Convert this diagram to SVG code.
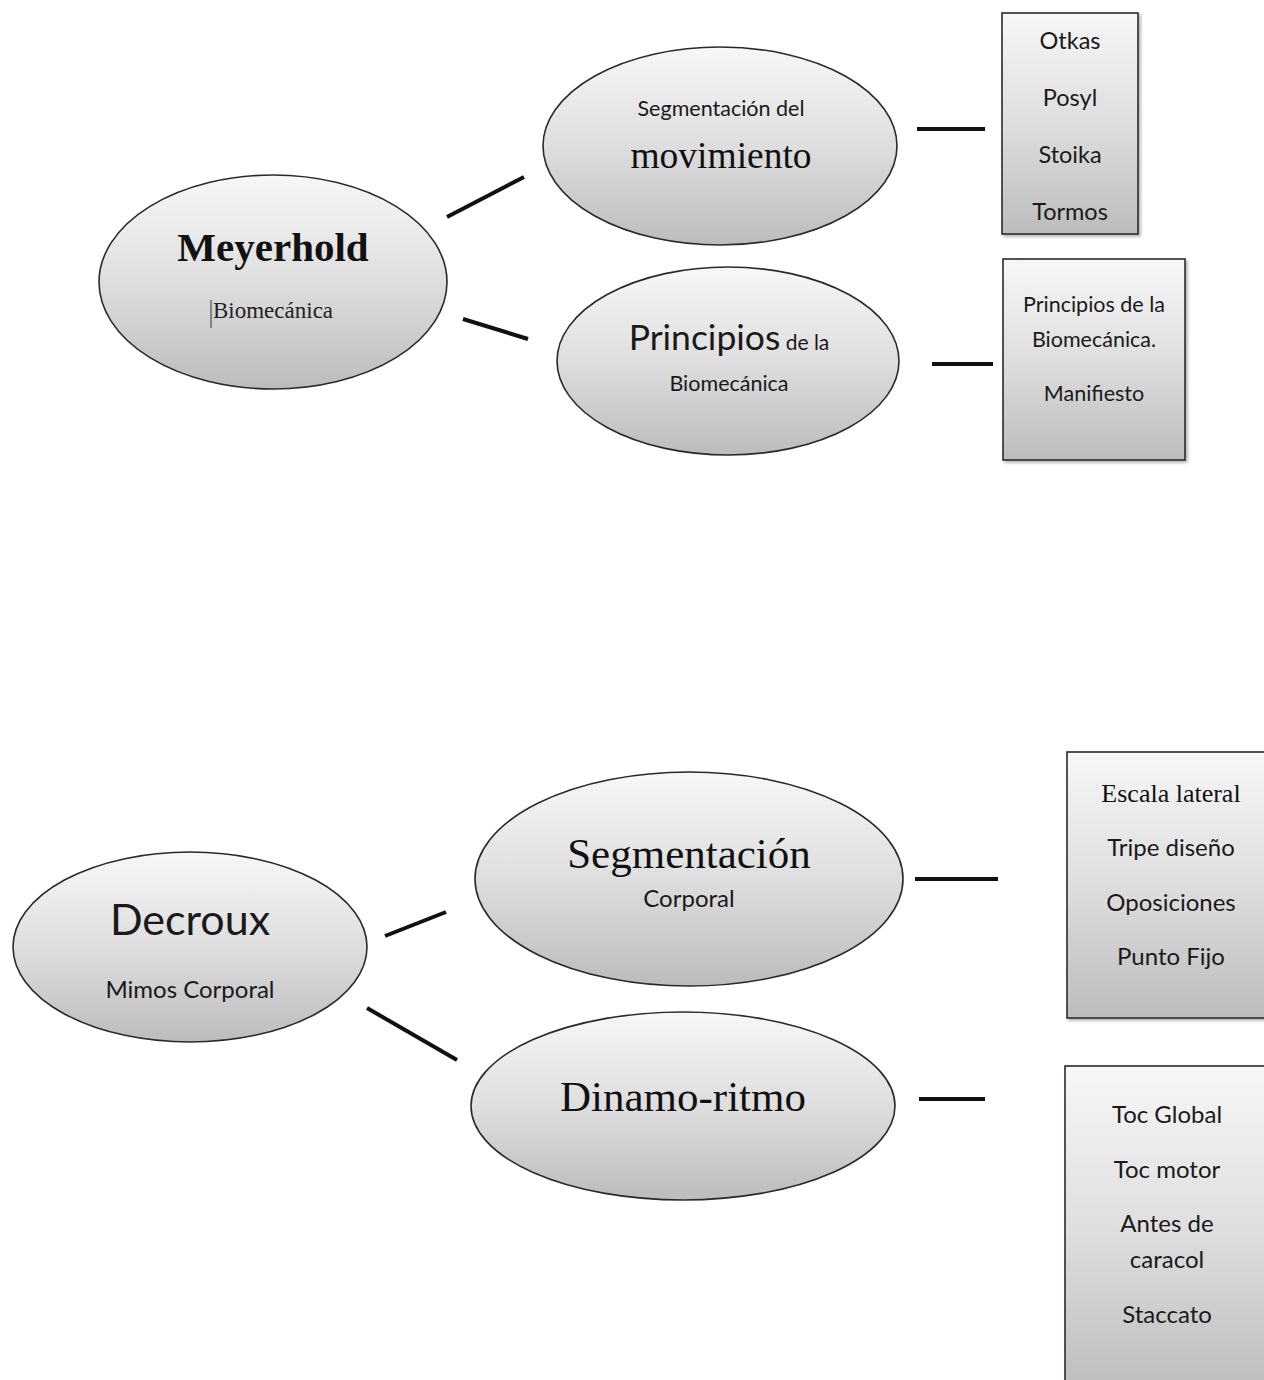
<svg xmlns="http://www.w3.org/2000/svg" width="1264" height="1380" viewBox="0 0 1264 1380">
<style>
.n{stroke:#2a2a2a;stroke-width:1.6;fill:url(#g)}
.c line{stroke:#111;stroke-width:4;stroke-linecap:butt}
.s{font-family:Lato,"Open Sans","Liberation Sans",sans-serif;fill:#1a1a1a;text-anchor:middle}
.r{font-family:"Liberation Serif","Times New Roman",serif;fill:#111;text-anchor:middle}
</style>
<defs>
<linearGradient id="g" x1="0" y1="0" x2="0" y2="1">
<stop offset="0" stop-color="#f7f7f7"/>
<stop offset="0.5" stop-color="#dedede"/>
<stop offset="1" stop-color="#bcbcbc"/>
</linearGradient>
<filter id="sh" x="-10%" y="-10%" width="125%" height="125%">
<feDropShadow dx="2" dy="2" stdDeviation="1.5" flood-color="#000" flood-opacity="0.3"/>
</filter>
</defs>
<rect width="1264" height="1380" fill="#fff"/>
<g class="c" id="connectors">
<line x1="447" y1="217" x2="524" y2="177"/>
<line x1="463" y1="319" x2="528" y2="339"/>
<line x1="917" y1="129" x2="985" y2="129"/>
<line x1="932" y1="364" x2="993" y2="364"/>
<line x1="385" y1="936" x2="446" y2="912"/>
<line x1="367" y1="1008" x2="457" y2="1060"/>
<line x1="915" y1="879" x2="998" y2="879"/>
<line x1="919" y1="1099" x2="985" y2="1099"/>
</g>
<g id="meyerhold">
<ellipse class="n" cx="273" cy="282" rx="174" ry="107"/>
<text class="r" x="273" y="261" font-size="41" font-weight="bold">Meyerhold</text>
<line x1="211" y1="300" x2="211" y2="328" stroke="#333" stroke-width="1"/>
<text x="213" y="318" font-family="Liberation Serif,serif" font-size="23" fill="#222">Biomecánica</text>
</g>
<g id="segmentacion-movimiento">
<ellipse class="n" cx="720" cy="146" rx="177" ry="99"/>
<text class="s" x="721" y="116" font-size="21.5">Segmentación del</text>
<text class="r" x="721" y="168" font-size="37.5">movimiento</text>
</g>
<g id="principios">
<ellipse class="n" cx="728" cy="361" rx="171" ry="94"/>
<text class="s" x="729" y="350"><tspan font-size="35.5">Principios</tspan><tspan font-size="21"> de la</tspan></text>
<text class="s" x="729" y="391" font-size="21.5">Biomecánica</text>
</g>
<g id="box-otkas">
<rect class="n" x="1002" y="13" width="136" height="221" filter="url(#sh)"/>
<text class="s" x="1070" y="49" font-size="23.5">Otkas</text>
<text class="s" x="1070" y="106" font-size="23.5">Posyl</text>
<text class="s" x="1070" y="163" font-size="23.5">Stoika</text>
<text class="s" x="1070" y="220" font-size="23.5">Tormos</text>
</g>
<g id="box-manifiesto">
<rect class="n" x="1003" y="259" width="182" height="201" filter="url(#sh)"/>
<text class="s" x="1094" y="312" font-size="21.5">Principios de la</text>
<text class="s" x="1094" y="347" font-size="21.5">Biomecánica.</text>
<text class="s" x="1094" y="401" font-size="21.5">Manifiesto</text>
</g>
<g id="decroux">
<ellipse class="n" cx="190" cy="947" rx="177" ry="95"/>
<text class="s" x="190" y="935" font-size="43">Decroux</text>
<text class="s" x="190" y="998" font-size="24">Mimos Corporal</text>
</g>
<g id="segmentacion-corporal">
<ellipse class="n" cx="689" cy="879" rx="214" ry="107"/>
<text class="r" x="689" y="868" font-size="43">Segmentación</text>
<text class="s" x="689" y="907" font-size="24">Corporal</text>
</g>
<g id="dinamo-ritmo">
<ellipse class="n" cx="683" cy="1106" rx="212" ry="94"/>
<text class="r" x="683" y="1111" font-size="43">Dinamo-ritmo</text>
</g>
<g id="box-escala">
<rect class="n" x="1067" y="752" width="210" height="266" filter="url(#sh)"/>
<text class="r" x="1171" y="802" font-size="26">Escala lateral</text>
<text class="s" x="1171" y="856" font-size="24">Tripe diseño</text>
<text class="s" x="1171" y="911" font-size="24">Oposiciones</text>
<text class="s" x="1171" y="965" font-size="24">Punto Fijo</text>
</g>
<g id="box-toc">
<rect class="n" x="1065" y="1066" width="212" height="330" filter="url(#sh)"/>
<text class="s" x="1167" y="1123" font-size="24">Toc Global</text>
<text class="s" x="1167" y="1178" font-size="24">Toc motor</text>
<text class="s" x="1167" y="1232" font-size="24">Antes de</text>
<text class="s" x="1167" y="1268" font-size="24">caracol</text>
<text class="s" x="1167" y="1323" font-size="24">Staccato</text>
</g>
</svg>
